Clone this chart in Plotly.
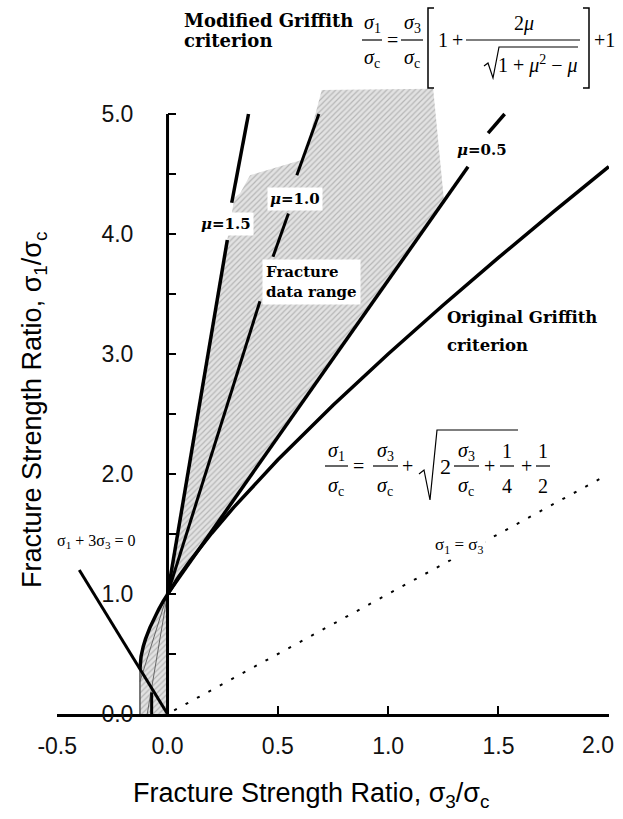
import plotly.graph_objects as go

# ---------------- data ----------------
# Original Griffith criterion  sigma1/sigmac vs sigma3/sigmac
griffith_x = [-0.125, -0.12, -0.11, -0.10, -0.08, -0.06, -0.04, -0.02, 0.0, 0.05, 0.10,
              0.20, 0.30, 0.40, 0.50, 0.75, 1.00, 1.25, 1.50, 1.75, 2.00]
griffith_y = [0.375, 0.48, 0.563, 0.624, 0.72, 0.801, 0.872, 0.938, 1.0, 1.142, 1.271,
              1.506, 1.722, 1.925, 2.118, 2.573, 3.0, 3.408, 3.803, 4.186, 4.562]
# tension cut-off below the Griffith vertex
cutoff_x = [-0.125, -0.125]
cutoff_y = [0.375, 0.0]
# sigma1 + 3 sigma3 = 0
tension_x = [-0.40, 0.0]
tension_y = [1.20, 0.0]
# sigma1 = sigma3
equal_x = [0.03, 1.97]
equal_y = [0.03, 1.97]
# Modified Griffith lines (segments broken where the labels sit)
mu15_x = [0.0, 0.271, None, 0.291, 0.367]
mu15_y = [1.0, 3.95, None, 4.26, 5.0]
mu10_x = [0.0, 0.419, None, 0.478, 0.548, None, 0.586, 0.686]
mu10_y = [1.0, 3.44, None, 3.81, 4.17, None, 4.49, 5.0]
mu05_x = [0.0, 1.362, None, 1.453, 1.528]
mu05_y = [1.0, 4.56, None, 4.84, 5.0]
# thin lines inside the tension part of the data range
fan_x = [0.0, -0.092, None, 0.0, -0.125]
fan_y = [1.0, 0.0, None, 1.0, 0.27]
bar_x = [-0.072, -0.072]
bar_y = [0.0, 0.18]
# Fracture data range (upper polygon)
region_x = [0.0, 0.303, 0.329, 0.374, 0.616, 0.699, 1.204, 1.242, 1.253, 0.0]
region_y = [1.0, 4.30, 4.34, 4.49, 4.62, 5.20, 5.21, 4.53, 4.28, 1.0]

x_ticks = [-0.5, 0.0, 0.5, 1.0, 1.5]
x_ticktext = ['-0.5', '0.0', '0.5', '1.0', '1.5']
x_end_tick = 2.0
x_end_label = '2.0'
y_ticks = [0.0, 1.0, 2.0, 3.0, 4.0, 5.0]
y_ticktext = ['0.0', '1.0', '2.0', '3.0', '4.0', '5.0']
y_minor_ticks = [0.5, 1.5, 2.5, 3.5, 4.5]

# ---------------- layout geometry ----------------
W, H = 623, 819
ML, MR, MT, MB = 57, 14, 18, 105
PW = W - ML - MR
PH = H - MT - MB


def px(x):
    return (x - ML) / PW


def py(y):
    return (H - MB - y) / PH


SANS = 'Liberation Sans, Arial, sans-serif'
SERIF = 'Liberation Serif, Times New Roman, serif'
BSERIF = 'DejaVu Serif, serif'

fig = go.Figure()

# lower (tension) part of the data range: between Griffith curve and the axis
low_x = [x for x in griffith_x if x <= 0][::-1] + [cutoff_x[1], 0.0, 0.0]
low_y = [y for x, y in zip(griffith_x, griffith_y) if x <= 0][::-1] + [cutoff_y[1], 0.0, 1.0]

pattern = dict(shape='/', bgcolor='#e2e2e2', fgcolor='#8a8a8a', size=4, solidity=0.3)
for xs, ys in [(region_x, region_y), (low_x, low_y)]:
    fig.add_trace(go.Scatter(x=xs, y=ys, mode='lines', fill='toself', line=dict(width=0),
                             fillcolor='#d0d0d0', fillpattern=pattern, hoverinfo='skip',
                             showlegend=False))

fig.add_trace(go.Scatter(x=fan_x, y=fan_y, mode='lines', line=dict(color='#666', width=1),
                         showlegend=False))
fig.add_trace(go.Scatter(x=cutoff_x, y=cutoff_y, mode='lines', line=dict(color='#555', width=1.5),
                         showlegend=False))
fig.add_trace(go.Scatter(x=bar_x, y=bar_y, mode='lines', line=dict(color='black', width=3),
                         showlegend=False))
fig.add_trace(go.Scatter(x=equal_x, y=equal_y, mode='lines',
                         line=dict(color='black', width=2, dash='3px,10px'), showlegend=False))
for xs, ys, w in [(griffith_x, griffith_y, 3.5), (tension_x, tension_y, 3),
                  (mu15_x, mu15_y, 3.5), (mu10_x, mu10_y, 3), (mu05_x, mu05_y, 3.5)]:
    fig.add_trace(go.Scatter(x=xs, y=ys, mode='lines', line=dict(color='black', width=w),
                             connectgaps=False, showlegend=False))

annotations = []
shapes = []


def txt(s, x, y, size, family=SERIF, anchor='center', **kw):
    annotations.append(dict(text=s, x=px(x), y=py(y), xref='paper', yref='paper',
                            showarrow=False, xanchor=anchor, yanchor='middle',
                            font=dict(size=size, family=family, color=kw.pop('color', 'black')),
                            **kw))


def seg(x0, y0, x1, y1, w=1.2):
    shapes.append(dict(type='line', xref='paper', yref='paper', x0=px(x0), y0=py(y0),
                       x1=px(x1), y1=py(y1), line=dict(color='black', width=w)))


def path(pts, w=1.2):
    d = 'M ' + ' L '.join(f'{px(a):.5f},{py(b):.5f}' for a, b in pts)
    shapes.append(dict(type='path', xref='paper', yref='paper', path=d,
                       line=dict(color='black', width=w)))


def frac(num, den, cx, x0, x1, ybar, dy_up, dy_dn, size):
    txt(num, cx, ybar - dy_up, size)
    txt(den, cx, ybar + dy_dn, size)
    seg(x0, ybar, x1, ybar)


S = '<i>σ</i>'
# --- Original Griffith equation ---
gs = 20
frac(S + '<sub>1</sub>', S + '<sub>c</sub>', 336, 325, 348, 466, 15, 20, gs)
txt('=', 358, 466, gs)
frac(S + '<sub>3</sub>', S + '<sub>c</sub>', 385, 373, 398, 466, 15, 20, gs)
txt('+', 407, 466, gs)
path([(419, 474), (424, 470), (430, 500), (437, 430), (518, 430)])
txt('2', 445, 466, gs + 2)
frac(S + '<sub>3</sub>', S + '<sub>c</sub>', 466, 454, 479, 466, 15, 20, gs)
txt('+', 489, 466, gs)
frac('1', '4', 507, 500, 514, 466, 15, 20, gs)
txt('+', 526, 466, gs)
frac('1', '2', 543, 536, 550, 466, 15, 20, gs)

# --- Modified Griffith equation ---
ms = 20
frac(S + '<sub>1</sub>', S + '<sub>c</sub>', 372, 362, 382, 40, 16, 18, ms)
txt('=', 392, 40, ms)
frac(S + '<sub>3</sub>', S + '<sub>c</sub>', 412, 401, 423, 40, 16, 18, ms)
path([(434, 8), (428, 8), (428, 88), (434, 88)], 1.5)
txt('1', 443, 40, ms)
txt('+', 457, 40, ms)
seg(466, 40, 580, 40)
txt('2<i>μ</i>', 524, 24, ms)
path([(484, 66), (488, 63), (493, 78), (499, 47), (578, 47)])
txt('1 + <i>μ</i><sup>2</sup> − <i>μ</i>', 538, 64, ms)
path([(583, 8), (589, 8), (589, 88), (583, 88)], 1.5)
txt('+1', 592, 40, ms, anchor='left')

# --- labels ---
txt('<b>Modified Griffith</b>', 182, 20, 18, BSERIF, anchor='left')
txt('<b>criterion</b>', 182, 40, 18, BSERIF, anchor='left')
txt('<b>Original Griffith</b>', 445, 317, 16.5, BSERIF, anchor='left')
txt('<b>criterion</b>', 445, 345, 16.5, BSERIF, anchor='left')
txt('<b><i>μ</i>=1.5</b>', 226, 224, 15, BSERIF, bgcolor='white', borderpad=2)
txt('<b><i>μ</i>=1.0</b>', 295, 199, 15, BSERIF, bgcolor='white', borderpad=2)
txt('<b><i>μ</i>=0.5</b>', 482, 150, 15, BSERIF, bgcolor='white', borderpad=2)
txt('<b>Fracture<br>data range</b>', 262, 282, 15, BSERIF, anchor='left', align='left',
    bgcolor='white', borderpad=3)
txt('σ<sub>1</sub> + 3σ<sub>3</sub> = 0', 96, 541, 16, SERIF)
txt('σ<sub>1</sub> = σ<sub>3</sub>', 459, 546, 17, SERIF, bgcolor='white', borderpad=2)

# last x tick label, nudged inside the figure as in the reference
txt(x_end_label, 598, 745, 23, SANS, color='#111')

# axis titles
txt('Fracture Strength Ratio, σ<sub>3</sub>/σ<sub>c</sub>', 311, 795, 27, SANS)
txt('Fracture Strength Ratio, σ<sub>1</sub>/σ<sub>c</sub>', 34, 410, 27, SANS, textangle=-90)

# y-axis line (only up to 5.0)
shapes.append(dict(type='line', xref='x', yref='y', x0=0, y0=0, x1=0, y1=5.0,
                   line=dict(color='black', width=3)))

fig.update_layout(
    width=W, height=H,
    margin=dict(l=ML, r=MR, t=MT, b=MB, pad=0, autoexpand=False),
    paper_bgcolor='white', plot_bgcolor='white',
    showlegend=False,
    annotations=annotations, shapes=shapes,
    xaxis=dict(range=[-0.501, 2.001], tickvals=x_ticks, ticktext=x_ticktext,
               ticks='inside', ticklen=8, tickwidth=2, tickcolor='black',
               minor=dict(tickvals=[x_end_tick], ticks='inside', ticklen=8, tickwidth=2,
                          tickcolor='black', showgrid=False),
               showline=True, linewidth=3, linecolor='black',
               automargin=False,
               showgrid=False, zeroline=False, ticklabelstandoff=9,
               tickfont=dict(family=SANS, size=23, color='#111')),
    yaxis=dict(range=[0, 5.8], tickvals=y_ticks, ticktext=y_ticktext,
               anchor='free', position=0.2, automargin=False,
               ticks='inside', ticklen=8, tickwidth=2, tickcolor='black',
               minor=dict(tickvals=y_minor_ticks, ticks='inside', ticklen=8, tickwidth=2,
                          tickcolor='black', showgrid=False),
               showline=False, showgrid=False, zeroline=False, ticklabelstandoff=34,
               tickfont=dict(family=SANS, size=23, color='#111')),
)

fig.write_html('out.html')
